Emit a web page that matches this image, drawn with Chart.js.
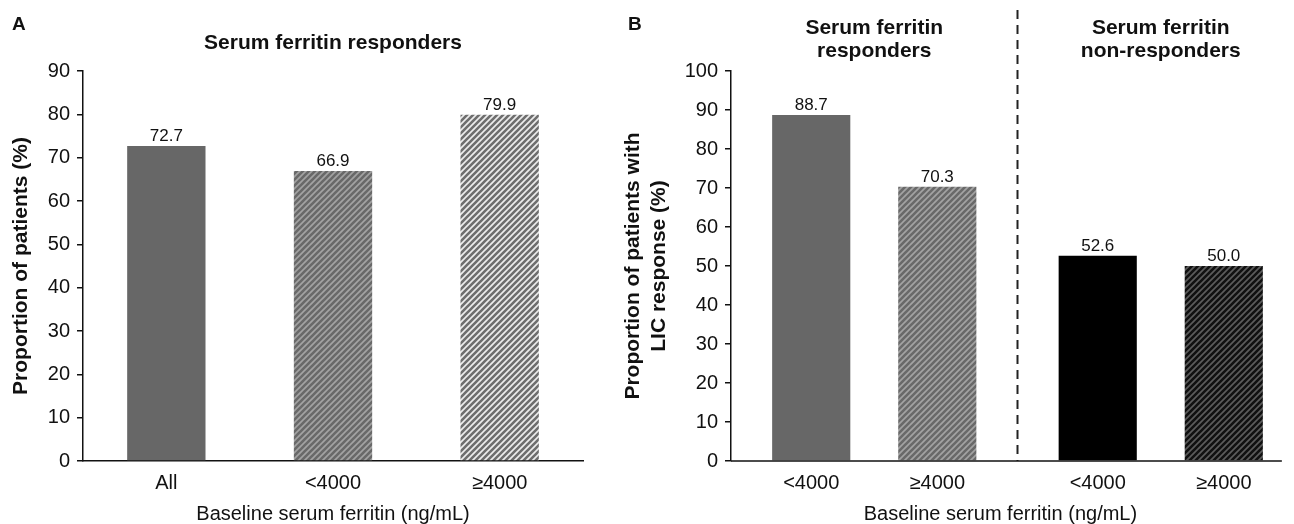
<!DOCTYPE html>
<html lang="en">
<head>
  <meta charset="UTF-8">
  <title>Serum ferritin and LIC response</title>
  <script src="https://cdn.jsdelivr.net/npm/chart.js"></script>
  <style>
    html, body {
      margin: 0;
      padding: 0;
      background: #fff;
      overflow: hidden;
    }
    .page {
      position: relative;
      width: 1294px;
      height: 524px;
      overflow: hidden;
    }
    #chartA {
      position: absolute;
      left: 0;
      top: 0;
    }
    #chartB {
      position: absolute;
      left: 600px;
      top: 0;
    }
  </style>
</head>
<body>

<div class="page">
  <canvas id="chartA" width="600" height="524"></canvas>
  <canvas id="chartB" width="720" height="524"></canvas>
</div>

<script>
// ---- data ----
const categoriesA = ['All', '<4000', '≥4000'];
const valuesA = [72.7, 66.9, 79.9];

const groupsB = [['Serum ferritin', 'responders'], ['Serum ferritin', 'non-responders']];
const seriesB = ['<4000', '≥4000'];
const lowB  = [88.7, 52.6];   // baseline <4000: responders, non-responders
const highB = [70.3, 50.0];   // baseline >=4000: responders, non-responders

const yMaxA = 90;
const yMaxB = 100;
const yStep = 10;

const titleA = 'Serum ferritin responders';
const yTitleA = 'Proportion of patients (%)';
const yTitleB = ['Proportion of patients with', 'LIC response (%)'];
const xTitle = 'Baseline serum ferritin (ng/mL)';

const FONT = "'Liberation Sans', Arial, Helvetica, sans-serif";

// diagonal hatch fill
function hatch(bg, fg, size, lw) {
  const c = document.createElement('canvas');
  c.width = c.height = size;
  const g = c.getContext('2d');
  g.fillStyle = bg;
  g.fillRect(0, 0, size, size);
  g.strokeStyle = fg;
  g.lineWidth = lw;
  g.beginPath();
  g.moveTo(0, size); g.lineTo(size, 0);
  g.moveTo(-size / 2, size / 2); g.lineTo(size / 2, -size / 2);
  g.moveTo(size / 2, size * 1.5); g.lineTo(size * 1.5, size / 2);
  g.stroke();
  return g.createPattern(c, 'repeat');
}

const solidGrey = '#676767';
const hatchMid   = hatch('#a3a3a3', '#696969', 6, 2.6);
const hatchLight = hatch('#ececec', '#6e6e6e', 6, 2.6);
const hatchDark  = hatch('#5c5c5c', '#111111', 6, 2.6);

// text, value labels and separator drawn over the chart
const panelText = {
  id: 'panelText',
  afterDatasetsDraw(chart, args, opts) {
    const ctx = chart.ctx;
    const area = chart.chartArea;
    const x = chart.scales.x;
    ctx.save();
    ctx.fillStyle = '#111';

    // panel letter
    ctx.font = 'bold 19px ' + FONT;
    ctx.textAlign = 'left';
    ctx.textBaseline = 'middle';
    ctx.fillText(opts.letter, opts.letterX, 25);

    // title(s)
    ctx.font = 'bold 21px ' + FONT;
    ctx.textAlign = 'center';
    if (opts.title) {
      ctx.fillText(opts.title, (area.left + area.right) / 2, 43);
    }
    if (opts.groups) {
      opts.groups.forEach((lines, i) => {
        const cx = x.getPixelForValue(i);
        lines.forEach((line, j) => ctx.fillText(line, cx, 28 + j * 23));
      });
    }

    // dashed separator between groups
    if (opts.separator) {
      const sx = (x.getPixelForValue(0) + x.getPixelForValue(1)) / 2;
      ctx.strokeStyle = '#222';
      ctx.lineWidth = 2;
      ctx.setLineDash([9, 6]);
      ctx.beginPath();
      ctx.moveTo(sx, 10);
      ctx.lineTo(sx, area.bottom);
      ctx.stroke();
      ctx.setLineDash([]);
    }

    // value labels and per-bar category labels
    let lastRight = area.left;
    chart.data.datasets.forEach((ds, di) => {
      const meta = chart.getDatasetMeta(di);
      meta.data.forEach((bar, i) => {
        lastRight = Math.max(lastRight, bar.x + bar.width / 2);
        ctx.font = '17px ' + FONT;
        ctx.textAlign = 'center';
        ctx.textBaseline = 'alphabetic';
        ctx.fillText(ds.data[i].toFixed(1), bar.x, bar.y - 5);
        if (opts.barLabels) {
          ctx.font = '20px ' + FONT;
          ctx.textBaseline = 'middle';
          ctx.fillText(opts.barLabels[di], bar.x, area.bottom + 22);
        }
      });
    });

    // shortened baseline and axis title (panel B)
    if (opts.baseline) {
      const end = lastRight + 19;
      ctx.strokeStyle = '#111';
      ctx.lineWidth = 1.5;
      ctx.beginPath();
      ctx.moveTo(area.left, area.bottom);
      ctx.lineTo(end, area.bottom);
      ctx.stroke();
      ctx.font = '20px ' + FONT;
      ctx.textAlign = 'center';
      ctx.textBaseline = 'middle';
      ctx.fillText(xTitle, (area.left + end) / 2 - 6, 514);
    }
    ctx.restore();
  }
};

function yScale(max, title, titlePad, width) {
  return {
    min: 0,
    max: max,
    ticks: {
      stepSize: yStep,
      padding: 7,
      color: '#111',
      font: { family: FONT, size: 20 }
    },
    grid: {
      drawOnChartArea: false,
      drawTicks: true,
      tickLength: 6,
      color: '#111',
      lineWidth: 1.5
    },
    border: { color: '#111', width: 1.5 },
    title: {
      display: true,
      text: title,
      color: '#111',
      font: { family: FONT, size: 21, weight: 'bold', lineHeight: 1.2 },
      padding: { top: titlePad, bottom: 0 }
    },
    afterFit(scale) { scale.width = width; }
  };
}

function xScale(showTicks) {
  return {
    offset: true,
    ticks: {
      display: showTicks,
      padding: 10,
      color: '#111',
      font: { family: FONT, size: 20 }
    },
    grid: { display: false, drawTicks: false },
    border: { display: showTicks, color: '#111', width: 1.5 },
    title: {
      display: showTicks,
      text: xTitle,
      color: '#111',
      font: { family: FONT, size: 20, lineHeight: 1.0 },
      padding: { top: 0, bottom: 0 }
    },
    afterFit(scale) { scale.height = 63; }
  };
}

// Panel A
new Chart(document.getElementById('chartA'), {
  type: 'bar',
  data: {
    labels: categoriesA,
    datasets: [{
      data: valuesA,
      backgroundColor: [solidGrey, hatchMid, hatchLight],
      borderWidth: 0,
      barPercentage: 0.47,
      categoryPercentage: 1
    }]
  },
  options: {
    responsive: false,
    animation: false,
    layout: { padding: { top: 71, right: 17, bottom: 0, left: 0 } },
    plugins: {
      legend: { display: false },
      tooltip: { enabled: false },
      panelText: { letter: 'A', letterX: 12, title: titleA }
    },
    scales: {
      x: xScale(true),
      y: yScale(yMaxA, yTitleA, 9, 83)
    }
  },
  plugins: [panelText]
});

// Panel B
new Chart(document.getElementById('chartB'), {
  type: 'bar',
  data: {
    labels: groupsB,
    datasets: [
      {
        label: seriesB[0],
        data: lowB,
        backgroundColor: [solidGrey, '#000000'],
        borderWidth: 0,
        barPercentage: 0.62,
        categoryPercentage: 0.88
      },
      {
        label: seriesB[1],
        data: highB,
        backgroundColor: [hatchMid, hatchDark],
        borderWidth: 0,
        barPercentage: 0.62,
        categoryPercentage: 0.88
      }
    ]
  },
  options: {
    responsive: false,
    animation: false,
    layout: { padding: { top: 71, right: 16, bottom: 0, left: 0 } },
    plugins: {
      legend: { display: false },
      tooltip: { enabled: false },
      panelText: { letter: 'B', letterX: 28, groups: groupsB, separator: true, barLabels: seriesB, baseline: true }
    },
    scales: {
      x: xScale(false),
      y: yScale(yMaxB, yTitleB, 21, 131)
    }
  },
  plugins: [panelText]
});
</script>

</body>
</html>
